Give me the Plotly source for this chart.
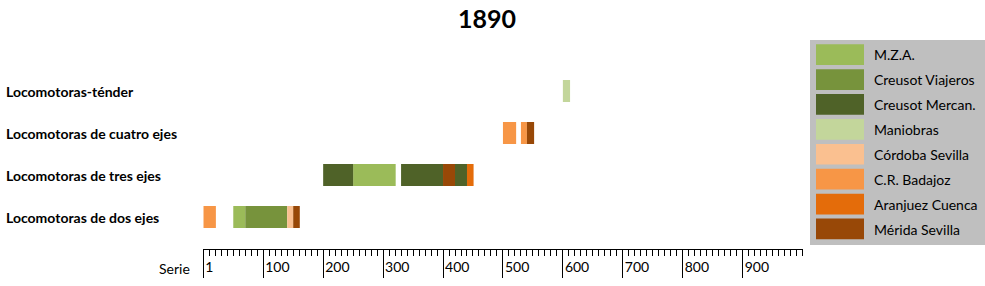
import plotly.graph_objects as go

# ---------------- data ----------------
categories = ["Locomotoras de dos ejes", "Locomotoras de tres ejes",
              "Locomotoras de cuatro ejes", "Locomotoras-ténder"]

series_names = ["M.Z.A.", "Creusot Viajeros", "Creusot Mercan.", "Maniobras",
                "Córdoba Sevilla", "C.R. Badajoz", "Aranjuez Cuenca", "Mérida Sevilla"]
series_colors = ["#9BBB59", "#77933C", "#4F6228", "#C3D69B",
                 "#FAC090", "#F79646", "#E46C0A", "#984807"]

# segments: category, series, first number, last number
seg_category = ["Locomotoras de dos ejes"] * 5 + ["Locomotoras de tres ejes"] * 6 + \
               ["Locomotoras de cuatro ejes"] * 3 + ["Locomotoras-ténder"]
seg_series = ["C.R. Badajoz", "M.Z.A.", "Creusot Viajeros", "Córdoba Sevilla", "Mérida Sevilla",
              "Creusot Mercan.", "M.Z.A.", "Creusot Mercan.", "Mérida Sevilla", "Creusot Mercan.", "Aranjuez Cuenca",
              "C.R. Badajoz", "C.R. Badajoz", "Mérida Sevilla",
              "Maniobras"]
seg_start = [0, 50, 70, 140, 150,
             200, 250, 330, 400, 420, 440,
             500, 530, 540,
             600]
seg_end = [21, 70, 140, 150, 161,
           250, 321, 400, 420, 440, 451,
           522, 540, 552,
           612]

tick_values = [0, 100, 200, 300, 400, 500, 600, 700, 800, 900]
tick_labels = ["1", "100", "200", "300", "400", "500", "600", "700", "800", "900"]

title_text = "1890"
axis_label = "Serie"

# ---------------- layout helpers ----------------
W, H = 985, 286
FONT = "Lato"


def px(x):
    return x / W


def py(y):
    return 1 - y / H


fig = go.Figure()

for name, color in zip(series_names, series_colors):
    idx = [i for i, s in enumerate(seg_series) if s == name]
    if not idx:
        continue
    fig.add_trace(go.Bar(
        orientation="h",
        y=[seg_category[i] for i in idx],
        x=[seg_end[i] - seg_start[i] for i in idx],
        base=[seg_start[i] for i in idx],
        marker=dict(color=color, line=dict(width=0)),
        width=0.524,
        name=name,
        showlegend=False,
        hovertemplate=name + ": %{base}–%{x}<extra></extra>",
    ))

shapes = []
annotations = []

# category labels (left aligned)
for c in categories:
    annotations.append(dict(
        x=px(4), xref="paper", xanchor="left",
        y=c, yref="y", yanchor="middle",
        text="<b>" + c + "</b>", showarrow=False,
        font=dict(family=FONT, size=14, color="black"),
    ))

# axis name
annotations.append(dict(
    x=px(192), xref="paper", xanchor="right",
    y=py(268), yref="paper", yanchor="middle",
    text=axis_label, showarrow=False,
    font=dict(family=FONT, size=14, color="black"),
))

# custom legend
shapes.append(dict(type="rect", xref="paper", yref="paper",
                   x0=px(810), x1=1, y0=py(245), y1=py(40),
                   fillcolor="#BFBFBF", line=dict(width=0), layer="below"))
for i, (name, color) in enumerate(zip(series_names, series_colors)):
    top = 44.3 + 24.9 * i
    shapes.append(dict(type="rect", xref="paper", yref="paper",
                       x0=px(816), x1=px(864), y0=py(top + 20.7), y1=py(top),
                       fillcolor=color, line=dict(width=0)))
    annotations.append(dict(
        x=px(872), xref="paper", xanchor="left",
        y=py(top + 10.5), yref="paper", yanchor="middle",
        text=name, showarrow=False,
        font=dict(family=FONT, size=14, color="black"),
    ))

fig.update_layout(
    width=W, height=H,
    margin=dict(l=0, r=0, t=0, b=0),
    paper_bgcolor="white", plot_bgcolor="white",
    barmode="overlay",
    title=dict(text="<b>" + title_text + "</b>", x=px(487), xanchor="center",
               y=py(19), yanchor="middle", yref="container",
               font=dict(family=FONT, size=25, color="black")),
    xaxis=dict(
        domain=[px(203.3), px(802.6)],
        range=[0, 1000],
        showgrid=False, zeroline=False,
        showline=True, linecolor="black", linewidth=1,
        tickmode="array", tickvals=tick_values, ticktext=tick_labels,
        ticks="outside", ticklen=28, tickwidth=1, tickcolor="black",
        ticklabelposition="outside right",
        ticklabelstandoff=5,
        ticklabelshift=1,
        tickfont=dict(family=FONT, size=14, color="black"),
        minor=dict(dtick=10, ticks="outside", ticklen=6, tickwidth=1, tickcolor="black"),
        fixedrange=True,
    ),
    yaxis=dict(
        domain=[py(249.3), py(65)],
        type="category",
        categoryorder="array", categoryarray=categories,
        range=[-0.769, 3.619],
        showticklabels=False, showgrid=False, zeroline=False, showline=False,
        ticks="",
        fixedrange=True,
    ),
    shapes=shapes,
    annotations=annotations,
    font=dict(family=FONT),
)

fig.write_html("out.html")
